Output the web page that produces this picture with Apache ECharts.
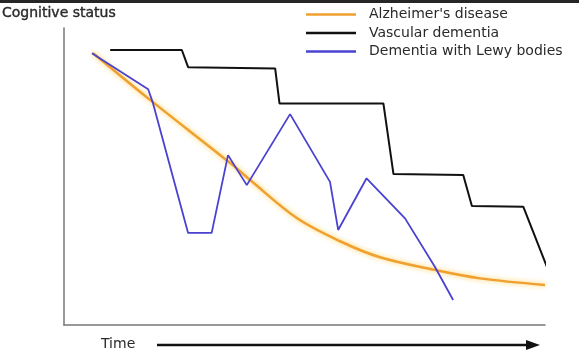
<!DOCTYPE html>
<html>
<head>
<meta charset="utf-8">
<script src="https://cdn.jsdelivr.net/npm/echarts@6/dist/echarts.min.js"></script>
<style>html,body{margin:0;padding:0;background:#fff}#c{width:579px;height:352px}</style>
</head>
<body>
<div id="c"></div>
<script>
// Data (time units 0..100 along the x axis, cognitive status 0..100)
const seriesNames = ["Alzheimer's disease", "Vascular dementia", "Dementia with Lewy bodies"];

const alzheimerTime   = [6.0, 17.9, 34.5, 38.7, 48.4, 57.4, 65.7, 77.5, 86.5, 100];
const alzheimerStatus = [91.6, 75.8, 54.6, 48.8, 36.0, 28.2, 22.8, 18.4, 15.7, 13.5];

const vascularTime   = [9.6, 24.5, 25.8, 43.9, 44.8, 66.4, 68.5, 83.0, 84.8, 95.5, 101.2];
const vascularStatus = [92.6, 92.6, 86.8, 86.4, 74.6, 74.6, 50.8, 50.5, 40.1, 39.8, 16.3];

const lewyTime   = [5.8, 17.5, 18.5, 25.8, 30.7, 34.1, 38.0, 47.0, 55.3, 57.0, 62.9, 70.9, 77.1, 80.9];
const lewyStatus = [91.5, 79.4, 74.7, 31.0, 31.0, 57.2, 47.1, 71.0, 48.2, 32.0, 49.4, 35.9, 19.6, 8.4];

const yAxisTitle = 'Cognitive status';
const xAxisTitle = 'Time';

const zip = (a, b) => a.map((v, i) => [v, b[i]]);
const FONT = 'DejaVu Sans';
const colors = ['#f0a030', '#111111', '#4a42d0'];

const chart = echarts.init(document.getElementById('c'), null, {renderer: 'canvas'});
chart.setOption({
  animation: false,
  backgroundColor: '#ffffff',
  title: [
    {text: yAxisTitle, left: 2, top: 6, padding: 0,
     textStyle: {fontFamily: FONT, fontSize: 14, fontWeight: 'normal', color: '#2a2a2a',
                 textBorderColor: '#2a2a2a', textBorderWidth: 0.4}},
    {text: xAxisTitle, left: 101, top: 337, padding: 0,
     textStyle: {fontFamily: FONT, fontSize: 14, fontWeight: 'normal', color: '#2a2a2a'}}
  ],
  legend: {
    orient: 'vertical', left: 306, top: 7, padding: 0, itemGap: 3.5,
    itemWidth: 50, itemHeight: 2.5, icon: 'rect',
    textStyle: {fontFamily: FONT, fontSize: 14, color: '#2a2a2a', lineHeight: 15, padding: [0, 0, 0, 8]},
    data: seriesNames
  },
  grid: {left: 64, right: 34, top: 28, bottom: 27},
  xAxis: {type: 'value', min: 0, max: 100,
    axisLine: {show: true, lineStyle: {color: '#777', width: 1.5}},
    axisTick: {show: false}, axisLabel: {show: false}, splitLine: {show: false}},
  yAxis: {type: 'value', min: 0, max: 100,
    axisLine: {show: true, lineStyle: {color: '#777', width: 1.5}},
    axisTick: {show: false}, axisLabel: {show: false}, splitLine: {show: false}},
  graphic: [
    {type: 'rect', left: 0, top: 0, shape: {width: 579, height: 3}, style: {fill: '#262626'}},
    {type: 'line', shape: {x1: 157, y1: 345, x2: 530, y2: 345}, style: {stroke: '#111', lineWidth: 2.5}},
    {type: 'polygon', shape: {points: [[526, 340], [540, 345], [526, 350]]}, style: {fill: '#111'}}
  ],
  series: [
    {name: seriesNames[0], type: 'line', data: zip(alzheimerTime, alzheimerStatus),
     smooth: 0.35, showSymbol: false, symbol: 'none', clip: false, z: 2,
     itemStyle: {color: colors[0]},
     lineStyle: {color: colors[0], width: 2.5, shadowColor: 'rgba(255,195,40,0.8)', shadowBlur: 5}},
    {name: seriesNames[1], type: 'line', data: zip(vascularTime, vascularStatus),
     showSymbol: false, symbol: 'none', clip: false, z: 3,
     itemStyle: {color: colors[1]},
     lineStyle: {color: colors[1], width: 2}},
    {name: seriesNames[2], type: 'line', data: zip(lewyTime, lewyStatus),
     showSymbol: false, symbol: 'none', clip: false, z: 4,
     itemStyle: {color: colors[2]},
     lineStyle: {color: colors[2], width: 1.8}}
  ]
});
</script>
</body>
</html>
